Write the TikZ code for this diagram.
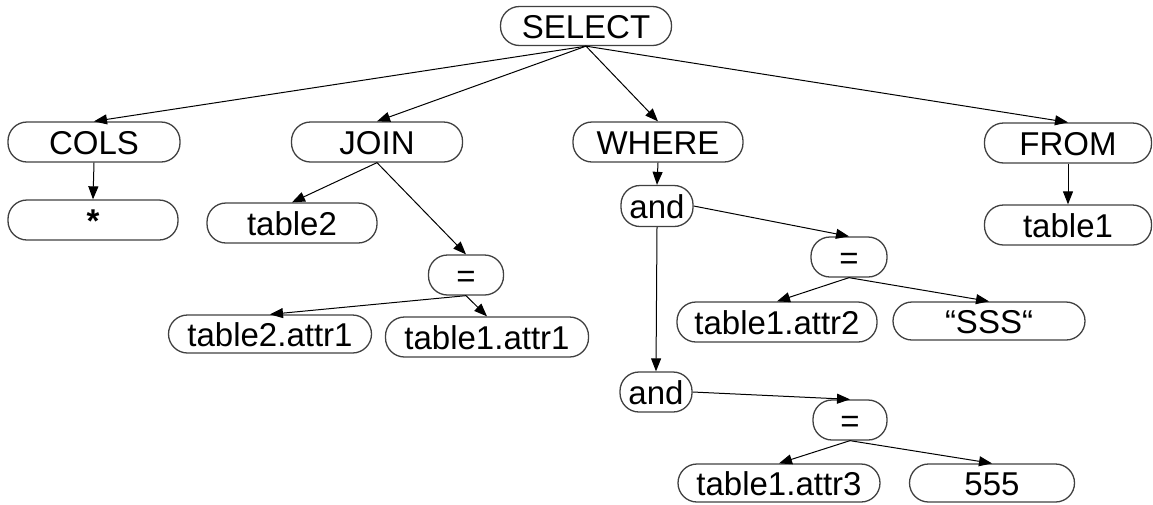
\documentclass[tikz,border=0pt]{standalone}
\usepackage{fontspec}
\setmainfont{Liberation Sans}
\usetikzlibrary{arrows.meta}
\begin{document}
\begin{tikzpicture}[x=1pt,y=-1pt,
  box/.style={draw=black!75, line width=1.3pt, rounded corners=19pt,
    minimum height=40pt, inner sep=0pt, text height=24pt, text depth=0pt,
    font=\fontsize{33}{36}\selectfont},
  edge/.style={draw=black, line width=1pt, -{Triangle[length=13pt,width=10pt]}}]
\useasboundingbox (0,0) rectangle (1153,504);

% root
\node[box, minimum width=171pt, minimum height=39pt] (select) at (586,26) {SELECT};

% clauses
\node[box, minimum width=172pt] (cols)  at (94,142)   {COLS};
\node[box, minimum width=171pt] (join)  at (377,142)  {JOIN};
\node[box, minimum width=170pt] (where) at (658,142)  {WHERE};
\node[box, minimum width=167pt] (from)  at (1068,143) {FROM};

% second level
\node[box, minimum width=170pt] (star)   at (93,220)   {\textbf{*}};
\node[box, minimum width=170pt] (tabB)   at (292,223)  {table2};
\node[box, minimum width=167pt] (tabA)   at (1068,225) {table1};
\node[box, minimum width=72pt, minimum height=41pt] (andA) at (657,206) {and};

% join condition
\node[box, minimum width=75pt] (eqJ)   at (466,275) {=};
\node[box, minimum width=203pt, minimum height=38pt] (t2a1) at (270,334) {table2.attr1};
\node[box, minimum width=203pt] (t1a1) at (487,337) {table1.attr1};

% where conditions
\node[box, minimum width=76pt] (eqW)   at (849,257) {=};
\node[box, minimum width=200pt] (t1a2) at (777,322) {table1.attr2};
\node[box, minimum width=192pt, minimum height=38pt] (sss) at (989,321) {“SSS“};
\node[box, minimum width=72pt] (andB)  at (656,392) {and};
\node[box, minimum width=74pt] (eqB)   at (850,420) {=};
\node[box, minimum width=202pt, minimum height=38pt] (t1a3) at (779,483) {table1.attr3};
\node[box, minimum width=165pt, minimum height=38pt] (num) at (992,483) {555};

% connectors
\draw[edge] (select.south) -- (cols.north);
\draw[edge] (select.south) -- (join.north);
\draw[edge] (select.south) -- (where.north);
\draw[edge] (select.south) -- (from.north);
\draw[edge] (cols.south) -- (star.north);
\draw[edge] (join.south) -- (tabB.north);
\draw[edge] (join.south) -- (eqJ.north);
\draw[edge] (eqJ.south) -- (t2a1.north);
\draw[edge] (eqJ.south) -- (t1a1.north);
\draw[edge] (where.south) -- (andA.north);
\draw[edge] (andA.east) -- (eqW.north);
\draw[edge] (andA.south) -- (andB.north);
\draw[edge] (eqW.south) -- (t1a2.north);
\draw[edge] (eqW.south) -- (sss.north);
\draw[edge] (andB.east) -- (eqB.north);
\draw[edge] (eqB.south) -- (t1a3.north);
\draw[edge] (eqB.south) -- (num.north);
\draw[edge] (from.south) -- (tabA.north);
\end{tikzpicture}
\end{document}
